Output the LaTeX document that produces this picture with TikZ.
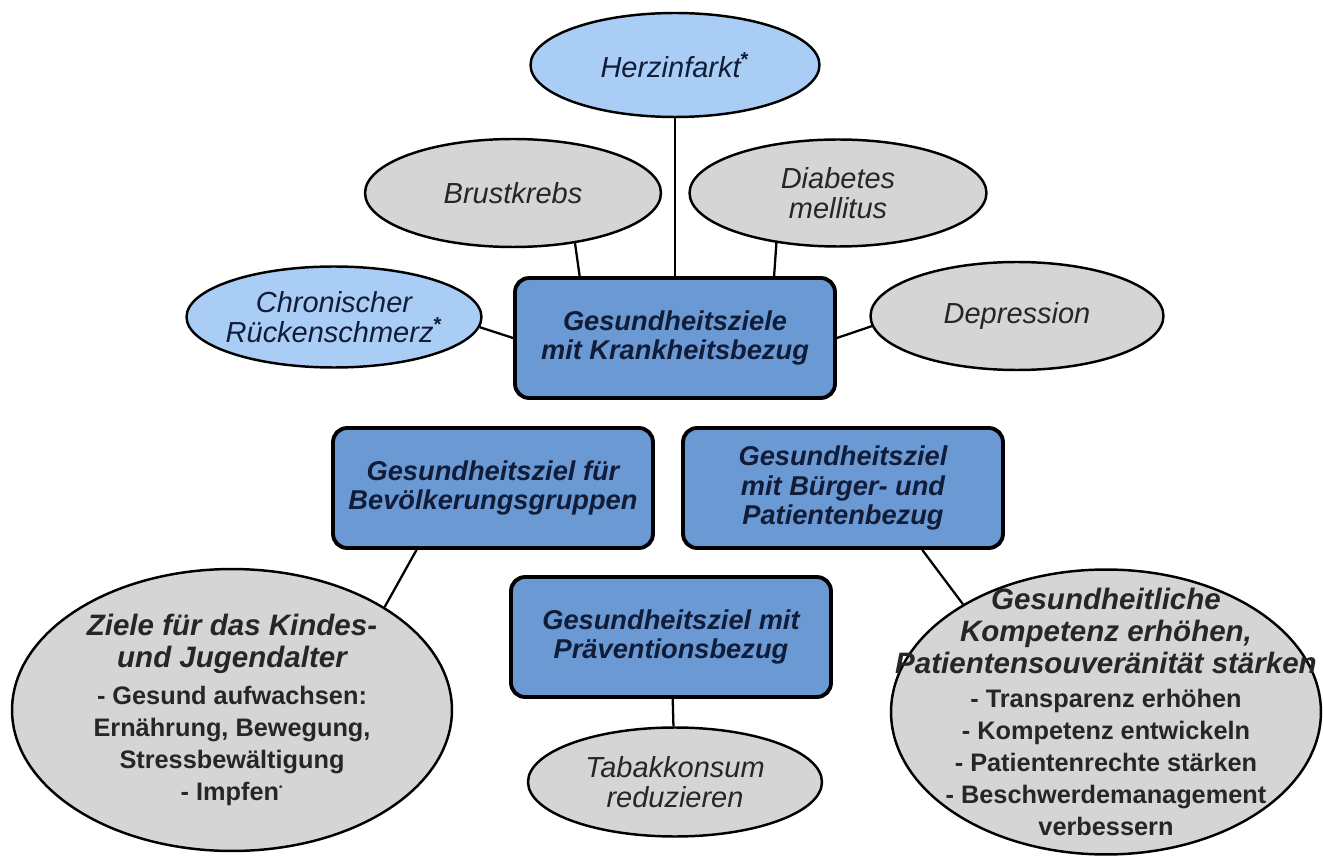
\documentclass[tikz,border=0pt]{standalone}
\usepackage{fontspec}
\setmainfont{Liberation Sans}
\usetikzlibrary{shapes.geometric}
\definecolor{hellblau}{RGB}{170,205,245}
\definecolor{boxblau}{RGB}{106,153,212}
\definecolor{hellgrau}{RGB}{213,213,213}
\definecolor{dunkelblau}{RGB}{16,28,56}
\newcommand{\ztitel}[1]{{\itshape\fontsize{16.8}{18.2}\selectfont #1}}
\begin{document}
\begin{tikzpicture}[x=0.02cm, y=-0.02cm,
  ziel/.style = {draw, line width=2.2pt, rounded corners=8pt, fill=boxblau, text=dunkelblau, minimum width=6.4cm, minimum height=2.4cm, align=center, font=\fontsize{15.5}{17}\selectfont\bfseries\itshape},
  blau/.style = {draw, ellipse, line width=1.4pt, fill=hellblau, text=dunkelblau, inner xsep=-2cm, inner ysep=-1.5cm, align=center, font=\fontsize{16.5}{17}\selectfont\itshape},
  grau/.style = {blau, fill=hellgrau, text=black!85},
  gross/.style = {grau, font=\fontsize{14.4}{18.2}\selectfont\bfseries},
  verb/.style = {line width=1.3pt}]
\useasboundingbox (0,0) rectangle (1323,858);
\node[ziel] (krank) at (675,338) {Gesundheitsziele\\mit Krankheitsbezug};
\node[ziel] (bev) at (493,488) {Gesundheitsziel für\\Bevölkerungsgruppen};
\node[ziel] (buerg) at (843,488) {Gesundheitsziel\\mit Bürger- und\\Patientenbezug};
\node[ziel] (praev) at (671,637) {Gesundheitsziel mit\\Präventionsbezug};
\node[blau, minimum width=5.78cm, minimum height=2.08cm] (herz) at (675,65) {Herzinfarkt\textsuperscript{\upshape\bfseries *}};
\node[grau, minimum width=5.92cm, minimum height=2.16cm] (brust) at (513,193) {Brustkrebs};
\node[grau, minimum width=5.94cm, minimum height=2.14cm] (diab) at (838,193) {Diabetes\\mellitus};
\node[blau, minimum width=5.9cm, minimum height=2.02cm] (chron) at (334,317) {Chronischer\\Rückenschmerz\textsuperscript{\upshape\bfseries *}};
\node[grau, minimum width=5.86cm, minimum height=2.16cm] (depr) at (1017,316) {Depression};
\node[grau, minimum width=5.88cm, minimum height=2.18cm] (tabak) at (675,782) {Tabakkonsum\\reduzieren};
\node[gross, minimum width=8.8cm, minimum height=5.64cm] (kind) at (232,710) {\ztitel{Ziele für das Kindes-}\\\ztitel{und Jugendalter}\\[3pt]- Gesund aufwachsen:\\Ernährung, Bewegung,\\Stressbewältigung\\- Impfen\textsuperscript{\tiny *}};
\node[gross, minimum width=8.6cm, minimum height=5.7cm] (komp) at (1106,712) {\ztitel{Gesundheitliche}\\\ztitel{Kompetenz erhöhen,}\\\ztitel{Patientensouveränität stärken}\\[1pt]- Transparenz erhöhen\\- Kompetenz entwickeln\\- Patientenrechte stärken\\- Beschwerdemanagement\\verbessern};
\draw[verb] (herz) -- (krank);
\draw[verb] (brust.-39) -- (krank.147);
\draw[verb] (diab.219) -- (krank.32.5);
\draw[verb] (chron.-4) -- (krank.west);
\draw[verb] (depr.184) -- (krank.east);
\draw[verb] (bev.219.4) -- (kind.34.4);
\draw[verb] (buerg.-38) -- (komp.143.6);
\draw[verb] (praev) -- (tabak);
\end{tikzpicture}
\end{document}
